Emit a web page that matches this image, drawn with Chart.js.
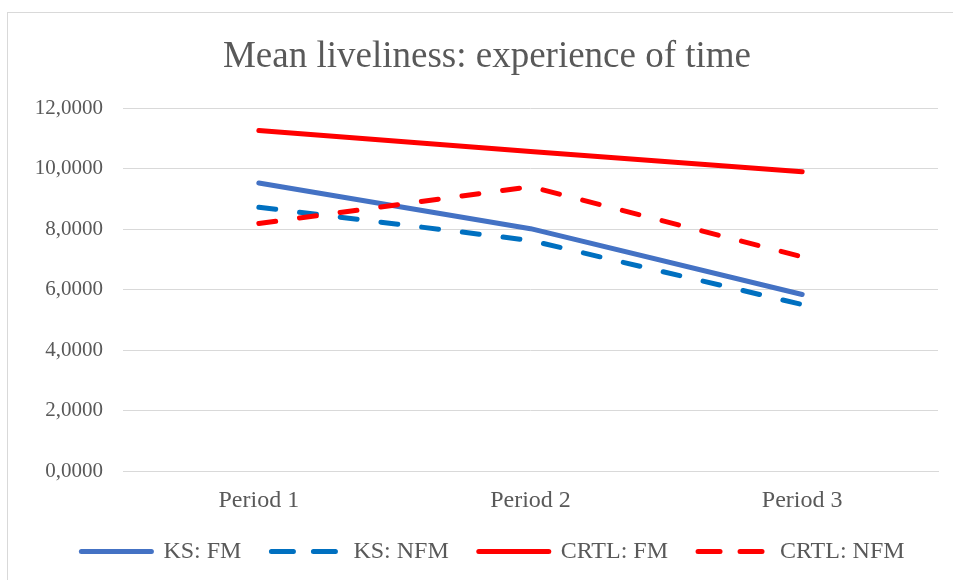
<!DOCTYPE html>
<html>
<head>
<meta charset="utf-8">
<script src="https://cdn.jsdelivr.net/npm/chart.js@4"></script>
<style>
  html, body { margin: 0; padding: 0; background: #fff; }
  #wrap { position: relative; width: 953px; height: 580px; overflow: hidden; }
  #frame { position: absolute; left: 7px; top: 12px; width: 1000px; height: 1000px;
    border-left: 1px solid #d9d9d9; border-top: 1px solid #d9d9d9; }
  canvas { position: absolute; left: 0; top: 0; }
</style>
</head>
<body>
<div id="wrap">
  <div id="frame"></div>
  <canvas id="chart" width="953" height="580"></canvas>
</div>
<script>
const periods = ["Period 1", "Period 2", "Period 3"];
const ksFm = [9.53, 8.02, 5.84];
const ksNfm = [8.73, 7.63, 5.51];
const crtlFm = [11.27, 10.57, 9.90];
const crtlNfm = [8.19, 9.41, 7.09];

const gray = "#595959";
const serif = "'Liberation Serif', 'Times New Roman', serif";

function series(label, data, color, dashed, order) {
	return {
		label,
		data,
		borderColor: color,
		backgroundColor: color,
		borderWidth: 5,
		borderDash: dashed ? [17, 24] : [],
		borderCapStyle: "round",
		borderJoinStyle: "round",
		pointRadius: 0,
		pointHoverRadius: 0,
		tension: 0,
		fill: false,
		order,
	};
}

// legend samples: line, dashed a bit longer than in the plot
function legendItems(chart) {
	return chart.data.datasets.map((ds, i) => ({
		text: ds.label,
		fillStyle: ds.borderColor,
		strokeStyle: ds.borderColor,
		lineWidth: 5,
		lineDash: ds.borderDash.length ? [22, 20] : [],
		lineCap: "round",
		pointStyle: "line",
		fontColor: gray,
		hidden: false,
		datasetIndex: i,
	}));
}

// nudge legend and title a little right, like in the original
const nudge = {
	id: "nudge",
	afterLayout(chart) {
		chart.legend.left += 10;
		chart.legend.right += 10;
		chart.titleBlock.left += 4;
		chart.titleBlock.right += 4;
	},
};

const config = {
	type: "line",
	data: {
		labels: periods,
		datasets: [
			series("KS: FM", ksFm, "#4472C4", false, 3),
			series("KS: NFM", ksNfm, "#0070C0", true, 2),
			series("CRTL: FM", crtlFm, "#FF0000", false, 1),
			series("CRTL: NFM", crtlNfm, "#FF0000", true, 0),
		],
	},
	options: {
		responsive: false,
		animation: false,
		layout: { padding: { left: 28, right: 15, top: 0, bottom: 6.5 } },
		plugins: {
			title: {
				display: true,
				text: "Mean liveliness: experience of time",
				color: gray,
				font: { family: serif, size: 37, weight: "normal", lineHeight: 1.2 },
				padding: { top: 35, bottom: 29 },
			},
			legend: {
				position: "bottom",
				labels: {
					color: gray,
					font: { family: serif, size: 24 },
					usePointStyle: true,
					pointStyle: "line",
					pointStyleWidth: 70,
					boxWidth: 70,
					boxHeight: 5,
					padding: 30,
					generateLabels: legendItems,
				},
			},
			tooltip: { enabled: false },
		},
		scales: {
			x: {
				offset: true,
				grid: { display: false, drawTicks: false },
				border: { display: true, color: "#d9d9d9", width: 1 },
				ticks: { color: gray, font: { family: serif, size: 24 }, padding: 15, maxRotation: 0 },
				afterFit: (scale) => { scale.height = 38.5; },
			},
			y: {
				min: 0,
				max: 12,
				grid: { color: "#d9d9d9", lineWidth: 1, drawTicks: false },
				border: { display: false },
				ticks: {
					stepSize: 2,
					color: gray,
					font: { family: serif, size: 21 },
					padding: 20,
					callback: (v) => Number(v).toFixed(4).replace(".", ","),
				},
				afterFit: (scale) => { scale.width = 95; },
			},
		},
	},
	plugins: [nudge],
};

const chart = new Chart(document.getElementById("chart"), config);
</script>
</body>
</html>
